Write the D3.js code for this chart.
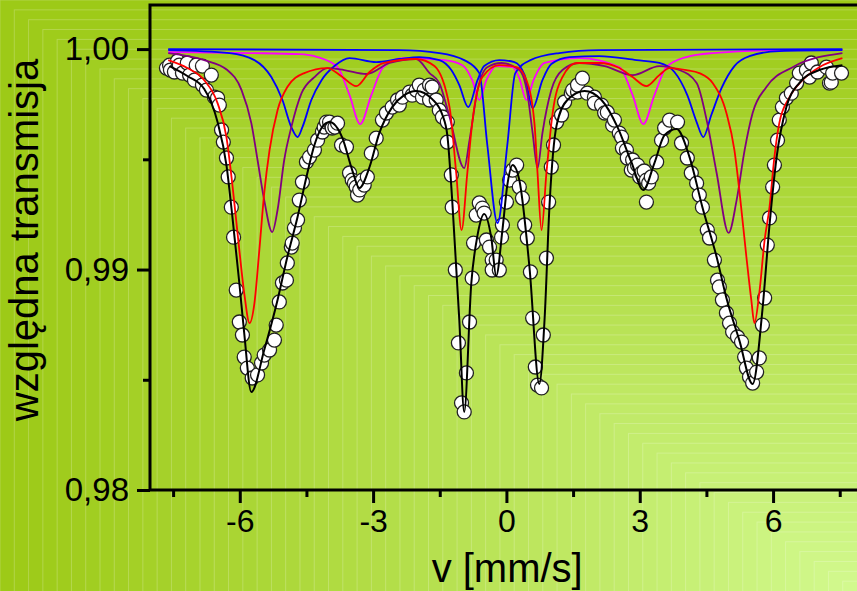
<!DOCTYPE html>
<html>
<head>
<meta charset="utf-8">
<script src="https://cdn.jsdelivr.net/npm/d3@7/dist/d3.min.js"></script>
<style>
  body { margin: 0; overflow: hidden; }
  svg { display: block; }
</style>
</head>
<body>
<svg id="chart"></svg>
<script>
// velocity [mm/s] , relative transmission
let measured = [
  [-7.65,0.99914],[-7.58,0.99927],[-7.56,0.99905],[-7.47,0.99896],[-7.40,0.99946],[-7.36,0.99927],
  [-7.29,0.99891],[-7.18,0.99937],[-7.13,0.99882],[-7.02,0.99859],[-6.98,0.99927],[-6.84,0.99923],
  [-6.84,0.99837],[-6.75,0.99814],[-6.64,0.99882],[-6.57,0.99782],[-6.50,0.99778],[-6.46,0.99746],
  [-6.41,0.99633],[-6.37,0.99578],[-6.30,0.99506],[-6.26,0.99420],[-6.19,0.99283],[-6.14,0.99147],
  [-6.08,0.98907],[-6.01,0.98762],[-5.94,0.98703],[-5.90,0.98603],[-5.83,0.98553],[-5.72,0.98508],
  [-5.60,0.98522],[-5.51,0.98576],[-5.45,0.98612],[-5.33,0.98635],[-5.22,0.98680],[-5.18,0.98748],
  [-5.11,0.98853],[-5.04,0.98939],[-4.95,0.98952],[-4.93,0.99030],[-4.84,0.99102],[-4.82,0.99120],
  [-4.77,0.99188],[-4.70,0.99225],[-4.66,0.99315],[-4.59,0.99397],[-4.50,0.99488],[-4.43,0.99510],
  [-4.32,0.99542],[-4.25,0.99587],[-4.14,0.99624],[-4.10,0.99646],[-4.05,0.99669],[-3.98,0.99669],
  [-3.92,0.99642],[-3.86,0.99646],[-3.80,0.99664],[-3.71,0.99565],[-3.60,0.99556],[-3.53,0.99438],
  [-3.47,0.99406],[-3.42,0.99392],[-3.38,0.99374],[-3.35,0.99338],[-3.30,0.99361],[-3.24,0.99406],
  [-3.20,0.99383],[-3.13,0.99420],[-3.04,0.99528],[-2.93,0.99596],[-2.79,0.99678],[-2.70,0.99710],
  [-2.57,0.99737],[-2.45,0.99769],[-2.41,0.99746],[-2.34,0.99782],[-2.18,0.99805],[-2.12,0.99791],
  [-2.03,0.99814],[-1.96,0.99837],[-1.89,0.99782],[-1.85,0.99814],[-1.73,0.99837],[-1.73,0.99769],
  [-1.67,0.99828],[-1.58,0.99769],[-1.51,0.99723],[-1.44,0.99692],[-1.33,0.99669],[-1.33,0.99578],
  [-1.24,0.99429],[-1.22,0.99283],[-1.15,0.98998],[-1.08,0.98667],[-1.01,0.98395],[-0.95,0.98354],
  [-0.90,0.98531],[-0.83,0.98762],[-0.77,0.98961],[-0.74,0.99120],[-0.68,0.99247],[-0.61,0.99302],
  [-0.54,0.99279],[-0.50,0.99256],[-0.45,0.99134],[-0.38,0.99102],[-0.32,0.99043],[-0.32,0.98998],
  [-0.23,0.99043],[-0.16,0.98998],[-0.11,0.99147],[-0.09,0.99202],[0.00,0.99306],[0.07,0.99406],
  [0.14,0.99451],[0.23,0.99474],[0.29,0.99374],[0.36,0.99324],[0.41,0.99202],[0.47,0.99143],
  [0.54,0.98989],[0.59,0.98780],[0.65,0.98558],[0.70,0.98476],[0.79,0.98463],[0.83,0.98703],
  [0.90,0.99052],[0.95,0.99306],[1.01,0.99465],[1.06,0.99565],[1.13,0.99669],[1.24,0.99701],
  [1.31,0.99760],[1.46,0.99800],[1.49,0.99814],[1.60,0.99805],[1.60,0.99837],[1.71,0.99868],
  [1.82,0.99800],[1.98,0.99782],[1.98,0.99755],[2.14,0.99746],[2.21,0.99710],[2.27,0.99714],
  [2.39,0.99655],[2.43,0.99678],[2.54,0.99619],[2.59,0.99601],[2.61,0.99551],[2.70,0.99542],
  [2.72,0.99506],[2.81,0.99451],[2.84,0.99497],[2.88,0.99460],[2.95,0.99474],[3.00,0.99420],
  [3.04,0.99438],[3.10,0.99447],[3.15,0.99406],[3.15,0.99306],[3.20,0.99392],[3.26,0.99420],
  [3.38,0.99488],[3.49,0.99587],[3.56,0.99642],[3.67,0.99678],[3.85,0.99669],[3.94,0.99574],
  [4.07,0.99506],[4.16,0.99438],[4.28,0.99392],[4.34,0.99338],[4.41,0.99283],[4.52,0.99179],
  [4.57,0.99143],[4.68,0.99043],[4.75,0.98952],[4.79,0.98921],[4.86,0.98862],[4.95,0.98803],
  [5.02,0.98757],[5.09,0.98717],[5.20,0.98694],[5.29,0.98671],[5.36,0.98603],[5.40,0.98553],
  [5.47,0.98513],[5.54,0.98485],[5.63,0.98535],[5.69,0.98599],[5.76,0.98748],[5.81,0.98871],
  [5.87,0.99111],[5.92,0.99234],[5.99,0.99374],[6.03,0.99474],[6.10,0.99587],[6.14,0.99678],
  [6.21,0.99737],[6.30,0.99778],[6.41,0.99800],[6.53,0.99846],[6.59,0.99891],[6.75,0.99905],
  [6.82,0.99873],[6.86,0.99937],[7.00,0.99896],[7.20,0.99918],[7.27,0.99846],[7.31,0.99850],
  [7.34,0.99891],[7.54,0.99891]
];

let fitTotal = [
  [-7.58,0.99923],[-7.18,0.99878],[-6.80,0.99819],[-6.50,0.99669],[-6.30,0.99474],[-6.17,0.99247],
  [-6.01,0.98939],[-5.90,0.98712],[-5.74,0.98444],[-5.45,0.98635],[-5.15,0.98862],[-4.93,0.99057],
  [-4.70,0.99238],[-4.50,0.99420],[-4.32,0.99565],[-4.16,0.99642],[-3.98,0.99669],[-3.69,0.99596],
  [-3.47,0.99451],[-3.31,0.99370],[-3.08,0.99465],[-2.86,0.99619],[-2.57,0.99737],[-2.30,0.99791],
  [-2.03,0.99810],[-1.67,0.99773],[-1.44,0.99701],[-1.33,0.99610],[-1.22,0.99315],[-1.06,0.98771],
  [-0.95,0.98354],[-0.79,0.98939],[-0.65,0.99156],[-0.50,0.99252],[-0.34,0.99143],[-0.23,0.98971],
  [-0.09,0.99179],[0.02,0.99383],[0.14,0.99474],[0.29,0.99406],[0.52,0.99007],[0.74,0.98481],
  [0.86,0.98780],[0.97,0.99293],[1.13,0.99655],[1.37,0.99769],[1.76,0.99810],[2.14,0.99769],
  [2.50,0.99646],[2.81,0.99488],[3.08,0.99361],[3.33,0.99483],[3.56,0.99610],[3.83,0.99637],
  [4.12,0.99510],[4.41,0.99283],[4.73,0.99057],[4.95,0.98871],[5.24,0.98680],[5.54,0.98481],
  [5.76,0.98816],[5.92,0.99202],[6.08,0.99510],[6.30,0.99737],[6.59,0.99846],[7.04,0.99905],
  [7.56,0.99927]
];

let fitRed = [
  [-7.61,0.99950],[-7.18,0.99914],[-6.80,0.99859],[-6.50,0.99755],[-6.30,0.99601],[-6.17,0.99392],
  [-6.01,0.99088],[-5.90,0.98893],[-5.78,0.98757],[-5.67,0.98848],[-5.56,0.99088],[-5.45,0.99347],
  [-5.33,0.99542],[-5.15,0.99723],[-4.93,0.99828],[-4.55,0.99891],[-4.03,0.99914],[-3.69,0.99873],
  [-3.38,0.99832],[-3.08,0.99896],[-2.75,0.99937],[-2.03,0.99955],[-1.62,0.99923],[-1.28,0.99737],
  [-1.13,0.99438],[-1.01,0.99179],[-0.88,0.99438],[-0.77,0.99664],[-0.54,0.99873],[-0.16,0.99927],
  [0.23,0.99918],[0.45,0.99859],[0.63,0.99664],[0.70,0.99438],[0.79,0.99179],[0.90,0.99438],
  [1.04,0.99710],[1.26,0.99873],[1.58,0.99937],[2.09,0.99937],[2.54,0.99914],[2.84,0.99873],
  [3.15,0.99832],[3.44,0.99882],[3.67,0.99914],[4.05,0.99905],[4.34,0.99891],[4.64,0.99846],
  [4.95,0.99710],[5.13,0.99542],[5.24,0.99361],[5.40,0.99057],[5.51,0.98862],[5.58,0.98757],
  [5.69,0.98893],[5.81,0.99134],[5.92,0.99283],[6.03,0.99510],[6.14,0.99664],[6.37,0.99782],
  [6.66,0.99859],[7.04,0.99918],[7.56,0.99959]
];

let fitPurple = [
  [-7.61,0.99982],[-6.80,0.99950],[-6.28,0.99905],[-5.96,0.99814],[-5.74,0.99664],[-5.60,0.99497],
  [-5.45,0.99315],[-5.27,0.99170],[-5.15,0.99270],[-5.00,0.99497],[-4.84,0.99646],[-4.61,0.99800],
  [-4.32,0.99873],[-4.03,0.99914],[-3.65,0.99905],[-3.15,0.99887],[-2.63,0.99937],[-2.03,0.99955],
  [-1.73,0.99891],[-1.51,0.99846],[-1.28,0.99692],[-0.95,0.99460],[-0.83,0.99587],[-0.65,0.99814],
  [-0.43,0.99918],[-0.11,0.99937],[0.29,0.99905],[0.47,0.99800],[0.59,0.99619],[0.70,0.99460],
  [0.81,0.99619],[1.01,0.99814],[1.26,0.99905],[1.64,0.99937],[2.21,0.99923],[2.84,0.99882],
  [3.44,0.99923],[3.89,0.99905],[4.28,0.99846],[4.52,0.99664],[4.73,0.99438],[5.00,0.99166],
  [5.18,0.99315],[5.36,0.99542],[5.54,0.99710],[5.85,0.99828],[6.44,0.99918],[7.56,0.99982]
];

let fitMagenta = [
  [-7.61,0.99986],[-5.78,0.99982],[-4.66,0.99977],[-4.25,0.99964],[-3.80,0.99918],[-3.53,0.99791],
  [-3.29,0.99660],[-3.04,0.99791],[-2.77,0.99918],[-2.32,0.99959],[-1.40,0.99950],[-0.99,0.99927],
  [-0.77,0.99859],[-0.61,0.99769],[-0.45,0.99859],[-0.23,0.99923],[0.14,0.99918],[0.29,0.99868],
  [0.45,0.99769],[0.61,0.99859],[0.86,0.99937],[1.64,0.99959],[2.54,0.99918],[2.84,0.99791],
  [3.08,0.99660],[3.33,0.99791],[3.60,0.99918],[4.05,0.99964],[4.64,0.99982],[6.14,0.99995],
  [7.56,0.99995]
];

let fitBlue = [
  [-7.61,0.99995],[-6.23,0.99982],[-5.67,0.99950],[-5.29,0.99873],[-5.04,0.99769],[-4.84,0.99646],
  [-4.70,0.99601],[-4.59,0.99646],[-4.39,0.99769],[-4.16,0.99859],[-3.87,0.99923],[-3.53,0.99959],
  [-2.93,0.99941],[-2.41,0.99955],[-1.96,0.99964],[-1.51,0.99950],[-1.24,0.99905],[-1.06,0.99837],
  [-0.86,0.99737],[-0.65,0.99859],[-0.50,0.99923],[-0.16,0.99950],[0.18,0.99941],[0.41,0.99882],
  [0.59,0.99732],[0.81,0.99859],[1.01,0.99932],[1.42,0.99964],[2.09,0.99968],[2.93,0.99950],
  [3.44,0.99937],[3.78,0.99896],[4.07,0.99791],[4.28,0.99669],[4.43,0.99601],[4.61,0.99701],
  [4.84,0.99823],[5.13,0.99923],[5.47,0.99968],[6.14,0.99991],[7.56,0.99995]
];

let fitBlueSinglet = [
  [-7.61,1.00000],[-2.41,0.99995],[-1.51,0.99982],[-0.95,0.99950],[-0.61,0.99891],[-0.43,0.99565],
  [-0.20,0.99211],[0.02,0.99565],[0.20,0.99891],[0.54,0.99950],[1.19,0.99982],[2.09,0.99995],
  [7.56,1.00000]
];

let xMajorTicks = [-6, -3, 0, 3, 6];
let xMinorTicks = [-7.5, -4.5, -1.5, 1.5, 4.5, 7.5];
let yMajorTicks = [0.98, 0.99, 1.00];
let yMinorTicks = [0.985, 0.995];
let xTitle = "v [mm/s]";
let yTitle = "względna transmisja";

let width = 857, height = 591;
let svg = d3.select("#chart").attr("width", width).attr("height", height);

// background: rectangular gradient, lighter toward bottom right
let bg = svg.append("g");
let bandCount = 60;
let bandColor = d3.interpolateRgb("#9dca17", "#d3fa90");
for (let i = 0; i < bandCount; i++) {
    let s = 1 - i / bandCount;
    bg.append("rect")
        .attr("x", width - width * s)
        .attr("y", height - height * s)
        .attr("width", width * s * 2)
        .attr("height", height * s * 2)
        .attr("fill", bandColor(Math.pow(i / bandCount, 1.1)))
        .attr("stroke", "rgba(255,255,255,0.22)")
        .attr("stroke-width", 1);
}

let plot = {left: 150, top: 5, right: 866.4, bottom: 490};

let x = d3.scaleLinear().domain([-8.02, 8.1]).range([plot.left, plot.right]);
let y = d3.scaleLinear().domain([0.98, 1.002]).range([plot.bottom, plot.top]);

let fmtY = (d) => d3.format(".2f")(d).replace(".", ",");

let line = d3.line()
    .curve(d3.curveMonotoneX)
    .x((d) => x(d[0]))
    .y((d) => y(d[1]));

// data points
svg.append("g").selectAll("circle")
    .data(measured)
    .enter()
    .append("circle")
        .attr("cx", (d) => x(d[0]))
        .attr("cy", (d) => y(d[1]))
        .attr("r", 7)
        .attr("fill", "#ffffff")
        .attr("stroke", "#222222")
        .attr("stroke-width", 1.3);

let components = [
    {values: fitMagenta, color: "#ff00ff"},
    {values: fitBlueSinglet, color: "#0000ff"},
    {values: fitBlue, color: "#0000ff"},
    {values: fitPurple, color: "#800080"},
    {values: fitRed, color: "#ff0000"}
];
for (let c of components) {
    svg.append("path")
        .datum(c.values)
        .attr("fill", "none")
        .attr("stroke", c.color)
        .attr("stroke-width", 1.8)
        .attr("stroke-linejoin", "round")
        .attr("d", line);
}

svg.append("path")
    .datum(fitTotal)
    .attr("fill", "none")
    .attr("stroke", "#000000")
    .attr("stroke-width", 2)
    .attr("stroke-linejoin", "round")
    .attr("d", line);

// frame
svg.append("rect")
    .attr("x", plot.left)
    .attr("y", plot.top)
    .attr("width", plot.right - plot.left)
    .attr("height", plot.bottom - plot.top)
    .attr("fill", "none")
    .attr("stroke", "#000000")
    .attr("stroke-width", 3);

// x axis
let xAxis = svg.append("g")
    .attr("transform", "translate(0," + plot.bottom + ")")
    .call(d3.axisBottom(x).tickValues(xMajorTicks).tickSize(13).tickSizeOuter(0).tickPadding(6)
        .tickFormat((d) => String(d)));
xAxis.select(".domain").remove();
xAxis.selectAll(".tick line").attr("stroke-width", 3);
xAxis.selectAll(".tick text")
    .attr("font-family", "'Liberation Sans', Arial, sans-serif")
    .attr("font-size", 32)
    .attr("fill", "#000");

let xMinor = svg.append("g")
    .attr("transform", "translate(0," + plot.bottom + ")")
    .call(d3.axisBottom(x).tickValues(xMinorTicks).tickSize(7).tickSizeOuter(0).tickFormat(""));
xMinor.select(".domain").remove();
xMinor.selectAll(".tick line").attr("stroke-width", 3);

// y axis
let yAxis = svg.append("g")
    .attr("transform", "translate(" + plot.left + ",0)")
    .call(d3.axisLeft(y).tickValues(yMajorTicks).tickSize(13).tickSizeOuter(0).tickPadding(8)
        .tickFormat(fmtY));
yAxis.select(".domain").remove();
yAxis.selectAll(".tick line").attr("stroke-width", 3);
yAxis.selectAll(".tick text")
    .attr("font-family", "'Liberation Sans', Arial, sans-serif")
    .attr("font-size", 33)
    .attr("fill", "#000");

let yMinor = svg.append("g")
    .attr("transform", "translate(" + plot.left + ",0)")
    .call(d3.axisLeft(y).tickValues(yMinorTicks).tickSize(7).tickSizeOuter(0).tickFormat(""));
yMinor.select(".domain").remove();
yMinor.selectAll(".tick line").attr("stroke-width", 3);

// titles
svg.append("text")
    .attr("x", (plot.left + plot.right) / 2 - 1)
    .attr("y", 582)
    .attr("text-anchor", "middle")
    .attr("font-family", "'Liberation Sans', Arial, sans-serif")
    .attr("font-size", 40)
    .attr("fill", "#000")
    .text(xTitle);

svg.append("text")
    .attr("transform", "translate(38,240) rotate(-90)")
    .attr("text-anchor", "middle")
    .attr("font-family", "'Liberation Sans', Arial, sans-serif")
    .attr("font-size", 40)
    .attr("fill", "#000")
    .text(yTitle);
</script>
</body>
</html>
